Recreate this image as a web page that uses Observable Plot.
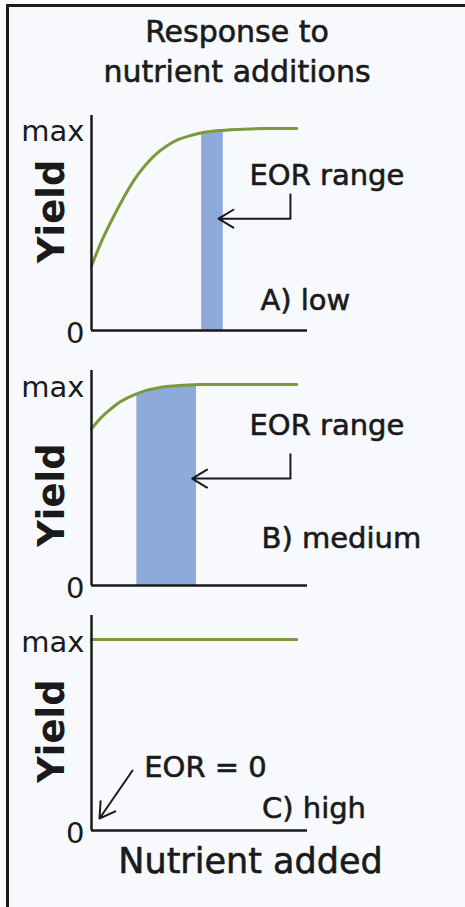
<!DOCTYPE html>
<html>
<head>
<meta charset="utf-8">
<script src="https://cdn.jsdelivr.net/npm/d3@7"></script>
<script src="https://cdn.jsdelivr.net/npm/@observablehq/plot@0.6"></script>
<style>
  html, body { margin: 0; padding: 0; background: #ffffff; }
  #root { position: relative; width: 465px; height: 907px; overflow: hidden; font-family: "DejaVu Sans", sans-serif; color: #1a1a1a; }
  #frame { position: absolute; left: 6px; top: 4px; right: 0; bottom: 0; border-top: 3px solid #1c1c1c; border-left: 3px solid #1c1c1c; background: #f7f9fc; }
  #title { position: absolute; left: 0; width: 474px; top: 12px; text-align: center; font-size: 30px; line-height: 40px; -webkit-text-stroke: 0.6px #1a1a1a; }
  .panel { position: absolute; left: 0; }
</style>
</head>
<body>
<div id="root">
  <div id="frame"></div>
  <div id="title">Response to<br>nutrient additions</div>
</div>
<script>
// ---- data (x: nutrient added 0–100, y: yield as fraction of max) ----
const curveA = [[0,0.32],[5,0.45],[10,0.56],[15,0.66],[20,0.75],[25,0.82],[30,0.875],[35,0.915],[40,0.945],[45,0.963],[50,0.977],[55,0.986],[60,0.991],[70,0.997],[80,1],[95,1]];
const curveB = [[0,0.78],[4,0.83],[8,0.87],[12,0.905],[16,0.93],[20,0.95],[25,0.97],[30,0.982],[35,0.99],[42,0.996],[50,1],[95,1]];
const curveC = [[0,1],[95,1]];
const eorA = [[51,0.977],[55,0.986],[61,0.991]];
const eorB = [[21,0.955],[25,0.97],[30,0.982],[35,0.99],[42,0.996],[48.6,1]];
const eorC = [];
const yTicks = [0, 1];
const yTickLabels = ["0", "max"];
const panelLabels = ["A) low", "B) medium", "C) high"];
const eorLabels = ["EOR range", "EOR range", "EOR = 0"];
const yLabel = "Yield";
const xLabel = "Nutrient added";

// ---- styling / layout ----
const green = "#7a9a3b";
const blue = "#8eaadb";
const ink = "#1a1a1a";
const font = "DejaVu Sans";
const embolden = 0.6;

const layout = [
  {top: 105, ymax: 1.065, mb: 20, curve: curveA, eor: eorA,
   yieldY: 0.59, eorText: [109, 0.767], panelText: [99, 0.149],
   elbow: [[92.1, 0.678], [92.1, 0.554]], arrow: [[92.1, 0.554], [58.8, 0.554]]},
  {top: 360, ymax: 1.07, mb: 20, curve: curveB, eor: eorB,
   yieldY: 0.45, eorText: [109, 0.796], panelText: [115.7, 0.234],
   elbow: [[92.1, 0.657], [92.1, 0.532]], arrow: [[92.1, 0.532], [46.6, 0.532]]},
  {top: 605, ymax: 1.126, mb: 77, curve: curveC, eor: eorC,
   yieldY: 0.52, eorText: [52.8, 0.33], panelText: [103, 0.115],
   elbow: null, arrow: [[19, 0.314], [3.7, 0.063]], xLabelX: 73.6}
];

const root = document.getElementById("root");
const textStyle = {fill: ink, stroke: ink, strokeWidth: embolden};

layout.forEach((p, i) => {
  const marks = [];
  if (p.eor.length) {
    marks.push(Plot.areaY(p.eor, {x: d => d[0], y: d => d[1], fill: blue, curve: "monotone-x"}));
  }
  marks.push(Plot.line(p.curve, {x: d => d[0], y: d => d[1], stroke: green, strokeWidth: 3, curve: "monotone-x"}));
  marks.push(Plot.ruleX([0], {stroke: ink, strokeWidth: 2.5}));
  marks.push(Plot.ruleY([0], {stroke: ink, strokeWidth: 2.5}));
  marks.push(Plot.axisY(yTicks, {
    tickFormat: d => yTickLabels[yTicks.indexOf(d)],
    tickSize: 0, tickPadding: 7, fontSize: 29, label: null, dy: 3, ...textStyle
  }));
  marks.push(Plot.text([yLabel], {
    frameAnchor: "left", textAnchor: "middle", dx: -39, y: p.yieldY, rotate: -90, text: d => d,
    fontSize: 37, fontWeight: "bold", fill: ink
  }));
  marks.push(Plot.text([eorLabels[i]], {
    x: p.eorText[0], y: p.eorText[1], text: d => d, fontSize: 29, ...textStyle
  }));
  marks.push(Plot.text([panelLabels[i]], {
    x: p.panelText[0], y: p.panelText[1], text: d => d, fontSize: 29, ...textStyle
  }));
  if (p.elbow) {
    marks.push(Plot.link([p.elbow], {
      x1: d => d[0][0], y1: d => d[0][1], x2: d => d[1][0], y2: d => d[1][1],
      stroke: ink, strokeWidth: 2
    }));
  }
  marks.push(Plot.arrow([p.arrow], {
    x1: d => d[0][0], y1: d => d[0][1], x2: d => d[1][0], y2: d => d[1][1],
    stroke: ink, strokeWidth: 2, headLength: 13, headAngle: 62, bend: 0
  }));
  if (p.xLabelX !== undefined) {
    marks.push(Plot.text([xLabel], {
      x: p.xLabelX, frameAnchor: "bottom", textAnchor: "middle", dy: 42, text: d => d,
      fontSize: 35, ...textStyle
    }));
  }

  const chart = Plot.plot({
    width: 465,
    height: 10 + 215 + p.mb,
    marginLeft: 91,
    marginRight: 158,
    marginTop: 10,
    marginBottom: p.mb,
    style: {background: "transparent", fontFamily: font, fontSize: "29px", color: ink, overflow: "visible"},
    x: {domain: [0, 100], axis: null},
    y: {domain: [0, p.ymax], axis: null},
    marks
  });
  const wrap = document.createElement("div");
  wrap.className = "panel";
  wrap.style.top = p.top + "px";
  wrap.appendChild(chart);
  root.appendChild(wrap);
});
</script>
</body>
</html>
